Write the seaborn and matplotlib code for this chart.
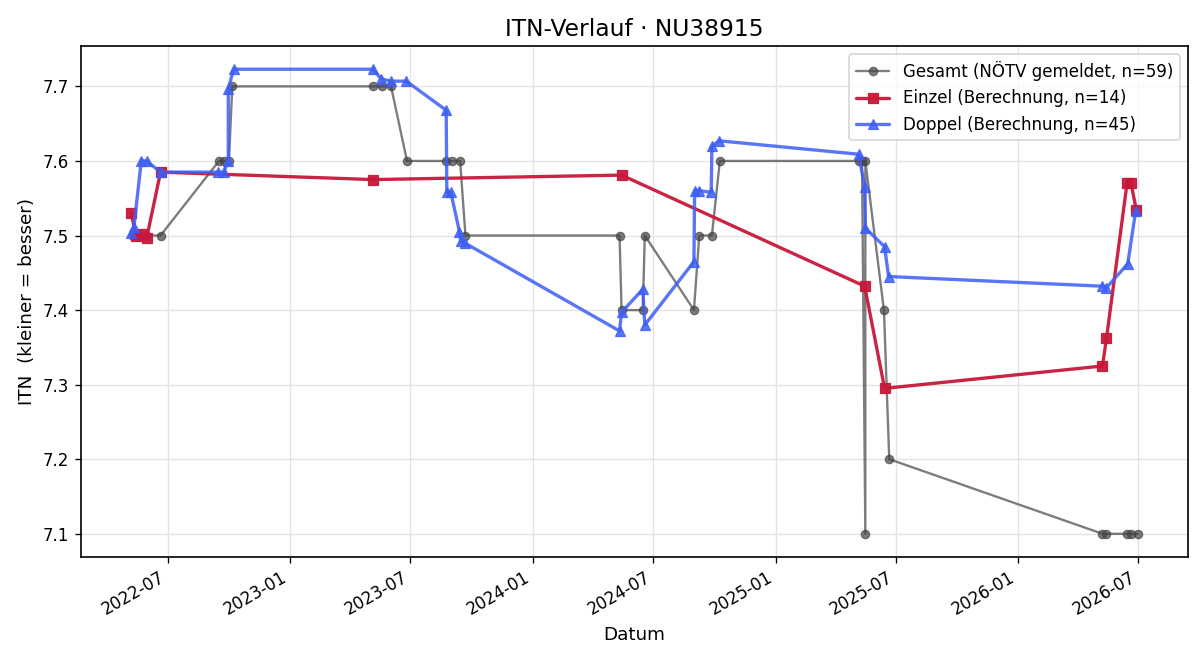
import numpy as np
import pandas as pd
import seaborn as sns
import matplotlib.pyplot as plt
import matplotlib.dates as mdates

sns.set_style('whitegrid', {'axes.edgecolor': 'black', 'text.color': 'black',
                            'axes.labelcolor': 'black', 'xtick.color': 'black',
                            'ytick.color': 'black', 'xtick.bottom': True, 'ytick.left': True,
                            'grid.color': '#e3e3e3'})
plt.rcParams['font.family'] = ['DejaVu Sans']

# Gesamt (NÖTV gemeldet)
gesamt_datum = ['2022-05-09', '2022-05-30', '2022-06-20', '2022-09-16', '2022-09-24', '2022-10-01',
                '2022-10-06', '2023-05-06', '2023-05-20', '2023-06-02', '2023-06-26', '2023-08-24',
                '2023-09-02', '2023-09-14', '2023-09-22', '2024-05-11', '2024-05-14', '2024-06-15',
                '2024-06-18', '2024-08-31', '2024-09-08', '2024-09-27', '2024-10-09', '2025-05-06',
                '2025-05-11', '2025-05-16', '2025-05-16', '2025-06-13', '2025-06-21', '2026-05-08',
                '2026-05-14', '2026-06-14', '2026-06-20', '2026-06-30']
gesamt_itn = [7.5, 7.5, 7.5, 7.6, 7.6, 7.6,
              7.7, 7.7, 7.7, 7.7, 7.6, 7.6,
              7.6, 7.6, 7.5, 7.5, 7.4, 7.4,
              7.5, 7.4, 7.5, 7.5, 7.6, 7.6,
              7.6, 7.1, 7.6, 7.4, 7.2, 7.1,
              7.1, 7.1, 7.1, 7.1]

# Einzel (Berechnung)
einzel_datum = ['2022-05-07', '2022-05-14', '2022-05-23', '2022-05-30', '2022-06-20', '2023-05-06',
                '2024-05-14', '2025-05-15', '2025-06-14', '2026-05-08', '2026-05-14', '2026-06-14',
                '2026-06-20', '2026-06-28']
einzel_itn = [7.530, 7.500, 7.502, 7.496, 7.585, 7.575,
              7.581, 7.432, 7.295, 7.325, 7.362, 7.570,
              7.570, 7.534]

# Doppel (Berechnung)
doppel_datum = ['2022-05-07', '2022-05-11', '2022-05-22', '2022-05-30', '2022-06-20', '2022-09-15',
                '2022-09-23', '2022-09-30', '2022-09-30', '2022-10-08', '2023-05-06', '2023-05-18',
                '2023-06-02', '2023-06-25', '2023-08-24', '2023-08-25', '2023-08-31', '2023-09-13',
                '2023-09-15', '2023-09-21', '2024-05-11', '2024-05-14', '2024-06-15', '2024-06-18',
                '2024-08-31', '2024-09-01', '2024-09-08', '2024-09-26', '2024-09-27', '2024-10-08',
                '2025-05-06', '2025-05-15', '2025-05-16', '2025-06-14', '2025-06-20', '2026-05-08',
                '2026-05-14', '2026-06-15', '2026-06-27']
doppel_itn = [7.503, 7.512, 7.600, 7.600, 7.585, 7.585,
              7.585, 7.600, 7.697, 7.723, 7.723, 7.710,
              7.707, 7.707, 7.668, 7.558, 7.558, 7.505,
              7.492, 7.490, 7.372, 7.397, 7.428, 7.380,
              7.465, 7.560, 7.560, 7.558, 7.620, 7.627,
              7.609, 7.565, 7.510, 7.485, 7.445, 7.432,
              7.430, 7.462, 7.533]

serien = [
    ('Gesamt (NÖTV gemeldet, n=59)', gesamt_datum, gesamt_itn, '#444444', 'o', 1.4, 5, 0.7),
    ('Einzel (Berechnung, n=14)', einzel_datum, einzel_itn, '#C8183A', 's', 2.0, 6, 0.95),
    ('Doppel (Berechnung, n=45)', doppel_datum, doppel_itn, '#3D5EF5', '^', 2.0, 6, 0.85),
]

fig, ax = plt.subplots(figsize=(10, 5.5), dpi=120)
for label, datum, itn, farbe, marker, lw, ms, alpha in serien:
    df = pd.DataFrame({'Datum': pd.to_datetime(datum), 'ITN': itn})
    sns.lineplot(data=df, x='Datum', y='ITN', estimator=None, sort=False, ax=ax,
                 color=farbe, marker=marker, linewidth=lw, markersize=ms,
                 markeredgecolor=farbe, alpha=alpha, label=label)

ax.set_title('ITN-Verlauf · NU38915', fontsize=14)
ax.set_xlabel('Datum', fontsize=11)
ax.set_ylabel('ITN  (kleiner = besser)', fontsize=11)
ax.xaxis.set_major_locator(mdates.MonthLocator(bymonth=[1, 7]))
ax.xaxis.set_major_formatter(mdates.DateFormatter('%Y-%m'))
ax.tick_params(axis='both', labelsize=10, length=3.5, width=0.8, color='black')
ax.grid(True, linewidth=0.8)
for spine in ax.spines.values():
    spine.set_visible(True)
    spine.set_color('black')
    spine.set_linewidth(1)
ax.legend(loc='upper right', fontsize=10, frameon=True)
fig.autofmt_xdate()
fig.subplots_adjust(left=81 / 1200, right=1188 / 1200, top=1 - 46 / 660, bottom=1 - 557 / 660)
plt.savefig('out.png', dpi=120)
